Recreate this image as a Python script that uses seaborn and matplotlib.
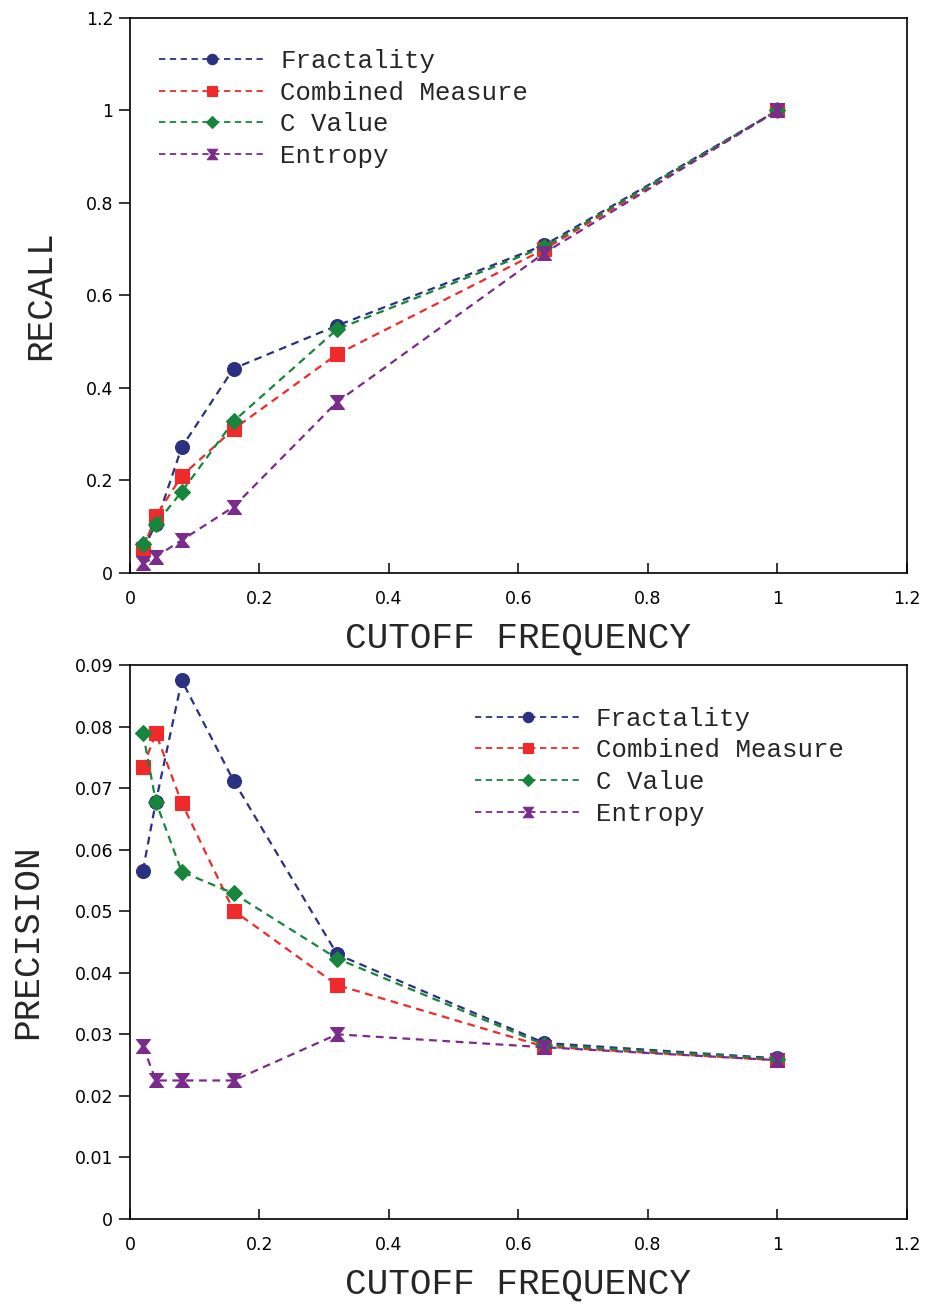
import numpy as np
import matplotlib
matplotlib.use("Agg")
import matplotlib.pyplot as plt
import seaborn as sns
from matplotlib.path import Path

# ---- data ----
cutoff = [0.02, 0.04, 0.08, 0.16, 0.32, 0.64, 1.0]
series_names = ["Fractality", "Combined Measure", "C Value", "Entropy"]

recall_fractality = [0.050, 0.106, 0.272, 0.442, 0.535, 0.709, 1.0]
recall_combined = [0.052, 0.123, 0.210, 0.311, 0.473, 0.700, 1.0]
recall_cvalue = [0.063, 0.106, 0.176, 0.328, 0.527, 0.705, 1.0]
recall_entropy = [0.021, 0.035, 0.071, 0.143, 0.370, 0.692, 1.0]

precision_fractality = [0.0566, 0.0678, 0.0875, 0.0712, 0.0430, 0.0286, 0.0261]
precision_combined = [0.0734, 0.0789, 0.0676, 0.0501, 0.0380, 0.0280, 0.0258]
precision_cvalue = [0.0790, 0.0678, 0.0564, 0.0529, 0.0423, 0.0283, 0.0260]
precision_entropy = [0.0281, 0.0225, 0.0225, 0.0225, 0.0300, 0.0279, 0.0258]

x_ticks = [0, 0.2, 0.4, 0.6, 0.8, 1.0, 1.2]
x_tick_labels = ["0", "0.2", "0.4", "0.6", "0.8", "1", "1.2"]
recall_ticks = [0, 0.2, 0.4, 0.6, 0.8, 1.0, 1.2]
recall_tick_labels = ["0", "0.2", "0.4", "0.6", "0.8", "1", "1.2"]
precision_ticks = [0, 0.01, 0.02, 0.03, 0.04, 0.05, 0.06, 0.07, 0.08, 0.09]
precision_tick_labels = ["0", "0.01", "0.02", "0.03", "0.04", "0.05", "0.06", "0.07", "0.08", "0.09"]

# ---- style ----
sns.set_theme(style="ticks")
plt.rcParams["font.family"] = ["DejaVu Sans"]

colors = ["#2a3180", "#ee2a2a", "#17853c", "#7a2b8c"]
hourglass = Path([(-1, 1), (1, 1), (0.22, 0), (1, -1), (-1, -1), (-0.22, 0), (-1, 1)],
                 [Path.MOVETO, Path.LINETO, Path.LINETO, Path.LINETO, Path.LINETO, Path.LINETO, Path.CLOSEPOLY])
markers = ["o", "s", "D", hourglass]
msizes = [10, 9.5, 8, 10]
label_font = "Liberation Mono"

fig = plt.figure(figsize=(9.33, 13.04), dpi=100)
ax1 = fig.add_axes([0.1393, 0.5606, 0.8328, 0.4256])
ax2 = fig.add_axes([0.1393, 0.0652, 0.8328, 0.4248])


def draw(ax, ys, yticks, yticklabels, ylim, ylabel, legend_anchor, ylabelpad):
    for name, y, c, m, ms in zip(series_names, ys, colors, markers, msizes):
        sns.lineplot(x=cutoff, y=y, ax=ax, color=c, marker=m, markersize=ms,
                     markeredgecolor=c, markeredgewidth=0.8,
                     linestyle=(0, (3.5, 2.5)), linewidth=1.6, label=name)
    ax.set_xlim(0, 1.2)
    ax.set_ylim(*ylim)
    ax.set_xticks(x_ticks)
    ax.set_xticklabels(x_tick_labels)
    ax.set_yticks(yticks)
    ax.set_yticklabels(yticklabels)
    ax.tick_params(axis="x", direction="in", length=7, width=1.1, labelsize=12.5, pad=12, colors="black")
    ax.tick_params(axis="y", direction="out", length=8, width=1.1, labelsize=12.5, pad=4, colors="black")
    for sp in ax.spines.values():
        sp.set_visible(True)
        sp.set_linewidth(1.2)
        sp.set_color("black")
    ax.set_xlabel("CUTOFF FREQUENCY", family=label_font, fontsize=26, labelpad=9)
    ax.set_ylabel(ylabel, family=label_font, fontsize=26, labelpad=ylabelpad)
    leg = ax.legend(loc="upper left", bbox_to_anchor=legend_anchor, frameon=False,
                    borderpad=0, borderaxespad=0, handlelength=4.1, handletextpad=0.6,
                    labelspacing=0.3, markerscale=0.75,
                    prop={"family": label_font, "size": 18.5})
    for h in leg.get_lines():
        h.set_linewidth(1.3)


draw(ax1, [recall_fractality, recall_combined, recall_cvalue, recall_entropy],
     recall_ticks, recall_tick_labels, (0, 1.2), "RECALL", (0.038, 0.944), 20)
draw(ax2, [precision_fractality, precision_combined, precision_cvalue, precision_entropy],
     precision_ticks, precision_tick_labels, (0, 0.09), "PRECISION", (0.444, 0.925), 21)

fig.savefig("out.png", dpi=100, facecolor="white")
